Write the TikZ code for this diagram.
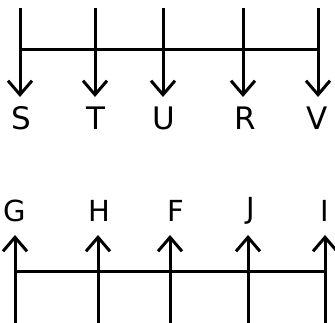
\documentclass[tikz,border=0pt]{standalone}
\usepackage{fontspec}
\setmainfont{DejaVu Sans}
\usetikzlibrary{arrows.meta, positioning}

\begin{document}
\begin{tikzpicture}[
    x=1pt, y=-1pt,
    line/.style={line width=3pt},
    arrow/.style={line, -{Straight Barb[length=14pt, width=24pt, line width=3pt]}},
    letter/.style={anchor=base, inner sep=0pt, font=\fontsize{31}{37}\selectfont}
]
    \useasboundingbox (0,0) rectangle (335,323);

    % Upper row: arrows pointing down
    \coordinate (topS) at (20,8);   \coordinate (tipS) at (20,97);
    \coordinate (topT) at (95,8);   \coordinate (tipT) at (95,97);
    \coordinate (topU) at (163,8);  \coordinate (tipU) at (163,97);
    \coordinate (topR) at (243,8);  \coordinate (tipR) at (243,97);
    \coordinate (topV) at (318,8);  \coordinate (tipV) at (318,97);

    \coordinate (barS) at (20,50);
    \coordinate (barV) at (318,50);

    \node[letter] (S) at (21,130) {S};
    \node[letter] (T) at (96,130) {T};
    \node[letter] (U) at (164,130) {U};
    \node[letter] (R) at (245,130) {R};
    \node[letter] (V) at (317,130) {V};

    \draw[line] (barS) -- (barV);
    \draw[arrow] (topS) -- (tipS);
    \draw[arrow] (topT) -- (tipT);
    \draw[arrow] (topU) -- (tipU);
    \draw[arrow] (topR) -- (tipR);
    \draw[arrow] (topV) -- (tipV);

    % Lower row: arrows pointing up
    \coordinate (footG) at (15,323);  \coordinate (tipG) at (15,235);
    \coordinate (footH) at (98,323);  \coordinate (tipH) at (98,235);
    \coordinate (footF) at (170,323); \coordinate (tipF) at (170,235);
    \coordinate (footJ) at (248,323); \coordinate (tipJ) at (248,235);
    \coordinate (footI) at (325,323); \coordinate (tipI) at (325,235);

    \coordinate (barG) at (15,272);
    \coordinate (barI) at (325,272);

    \node[letter, font=\fontsize{29}{35}\selectfont] (G) at (15,222) {G};
    \node[letter, font=\fontsize{29}{35}\selectfont] (H) at (99,222) {H};
    \node[letter, font=\fontsize{29}{35}\selectfont] (F) at (176,222) {F};
    \node[letter, font=\fontsize{29}{35}\selectfont] (J) at (251,219) {J};
    \node[letter, font=\fontsize{29}{35}\selectfont] (I) at (325,222) {I};

    \draw[line] (barG) -- (barI);
    \draw[arrow] (footG) -- (tipG);
    \draw[arrow] (footH) -- (tipH);
    \draw[arrow] (footF) -- (tipF);
    \draw[arrow] (footJ) -- (tipJ);
    \draw[arrow] (footI) -- (tipI);

\end{tikzpicture}
\end{document}
